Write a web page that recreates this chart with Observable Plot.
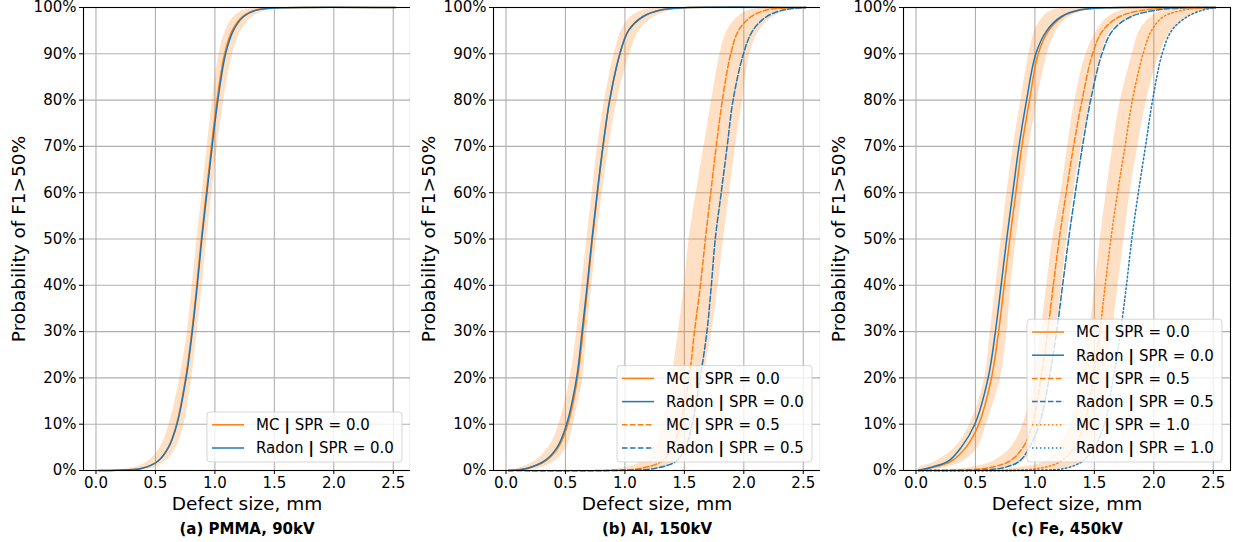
<!DOCTYPE html>
<html><head><meta charset="utf-8">
<script src="https://cdn.jsdelivr.net/npm/d3@7"></script>
<script src="https://cdn.jsdelivr.net/npm/@observablehq/plot@0.6"></script>
<style>
body{margin:0;background:#fff;width:1233px;height:542px;overflow:hidden;font-family:"DejaVu Sans";}
.panel{position:absolute;top:0;}
</style></head><body>
<div id="chart"></div>
<script>
// probability levels at which the curve positions (defect size, mm) were read
const levels = [0.0005, 0.005, 0.02, 0.05, 0.1, 0.2, 0.3, 0.4, 0.5, 0.6, 0.7, 0.8, 0.9, 0.95, 0.98, 0.995, 0.9995];
const xTicks = [0, 0.5, 1.0, 1.5, 2.0, 2.5];
const yTicks = [0, 0.1, 0.2, 0.3, 0.4, 0.5, 0.6, 0.7, 0.8, 0.9, 1.0];
const xStart = 0.02, xEnd = 2.52;
const captions = ["(a) PMMA, 90kV", "(b) Al, 150kV", "(c) Fe, 450kV"];
const sprValues = [["0.0"], ["0.0", "0.5"], ["0.0", "0.5", "1.0"]];

// (a) PMMA, 90kV
const aMC0    = [0.17, 0.39, 0.52, 0.608, 0.678, 0.754, 0.806, 0.848, 0.886, 0.928, 0.971, 1.018, 1.082, 1.145, 1.23, 1.35, 1.56];
const aRadon0 = [0.17, 0.39, 0.52, 0.610, 0.681, 0.758, 0.810, 0.852, 0.890, 0.933, 0.977, 1.025, 1.090, 1.155, 1.24, 1.36, 1.57];
const aLo0    = [0.09, 0.30, 0.44, 0.54, 0.615, 0.705, 0.768, 0.81, 0.85, 0.893, 0.935, 0.98, 1.035, 1.09, 1.16, 1.26, 1.42];
const aHi0    = [0.27, 0.47, 0.59, 0.675, 0.74, 0.805, 0.852, 0.893, 0.932, 0.975, 1.02, 1.075, 1.15, 1.22, 1.32, 1.46, 1.68];

// (b) Al, 150kV
const bMC0    = [0.07, 0.19, 0.33, 0.44, 0.52, 0.602, 0.647, 0.688, 0.727, 0.770, 0.817, 0.873, 0.958, 1.03, 1.15, 1.31, 1.50];
const bRadon0 = [0.06, 0.18, 0.32, 0.43, 0.51, 0.594, 0.640, 0.683, 0.723, 0.767, 0.815, 0.872, 0.958, 1.03, 1.15, 1.31, 1.50];
const bLo0    = [0.02, 0.10, 0.24, 0.36, 0.445, 0.54, 0.595, 0.637, 0.68, 0.725, 0.77, 0.83, 0.91, 0.97, 1.05, 1.17, 1.32];
const bHi0    = [0.14, 0.28, 0.41, 0.51, 0.565, 0.645, 0.68, 0.722, 0.762, 0.81, 0.865, 0.935, 1.04, 1.12, 1.25, 1.42, 1.65];
const bMC5    = [0.90, 1.14, 1.31, 1.40, 1.465, 1.540, 1.585, 1.635, 1.677, 1.722, 1.768, 1.820, 1.890, 1.955, 2.06, 2.20, 2.42];
const bRadon5 = [1.00, 1.26, 1.43, 1.51, 1.565, 1.633, 1.690, 1.727, 1.760, 1.810, 1.860, 1.910, 1.997, 2.075, 2.19, 2.34, 2.50];
const bLo5    = [0.75, 0.98, 1.15, 1.26, 1.32, 1.395, 1.45, 1.50, 1.54, 1.60, 1.665, 1.73, 1.80, 1.86, 1.95, 2.06, 2.22];
const bHi5    = [1.05, 1.30, 1.465, 1.54, 1.595, 1.66, 1.73, 1.785, 1.83, 1.88, 1.93, 1.99, 2.05, 2.13, 2.25, 2.40, 2.52];

// (c) Fe, 450kV
const cMC0    = [0.02, 0.115, 0.296, 0.42, 0.528, 0.635, 0.695, 0.742, 0.789, 0.840, 0.890, 0.955, 1.028, 1.115, 1.23, 1.39, 1.60];
const cRadon0 = [0.02, 0.10, 0.27, 0.38, 0.495, 0.607, 0.668, 0.716, 0.763, 0.814, 0.866, 0.930, 1.008, 1.10, 1.22, 1.38, 1.60];
const cLo0    = [0.02, 0.02, 0.17, 0.33, 0.453, 0.578, 0.625, 0.672, 0.717, 0.765, 0.818, 0.883, 0.95, 1.00, 1.07, 1.16, 1.30];
const cHi0    = [0.10, 0.22, 0.40, 0.52, 0.592, 0.711, 0.764, 0.80, 0.842, 0.895, 0.95, 1.02, 1.106, 1.18, 1.29, 1.46, 1.70];
const cMC5    = [0.30, 0.59, 0.786, 0.90, 0.98, 1.051, 1.107, 1.155, 1.205, 1.263, 1.325, 1.397, 1.485, 1.57, 1.71, 1.93, 2.20];
const cRadon5 = [0.45, 0.716, 0.87, 0.954, 1.037, 1.121, 1.183, 1.233, 1.284, 1.340, 1.400, 1.469, 1.564, 1.653, 1.806, 2.04, 2.30];
const cLo5    = [0.15, 0.42, 0.65, 0.80, 0.90, 0.99, 1.05, 1.10, 1.149, 1.22, 1.275, 1.337, 1.43, 1.52, 1.62, 1.75, 1.95];
const cHi5    = [0.45, 0.73, 0.90, 0.99, 1.065, 1.13, 1.18, 1.225, 1.267, 1.325, 1.39, 1.47, 1.56, 1.64, 1.82, 2.10, 2.35];
const cMC10   = [0.70, 1.04, 1.22, 1.33, 1.415, 1.490, 1.546, 1.591, 1.639, 1.695, 1.758, 1.820, 1.910, 1.98, 2.08, 2.26, 2.45];
const cRadon10= [1.00, 1.26, 1.40, 1.50, 1.585, 1.660, 1.720, 1.770, 1.815, 1.870, 1.930, 1.990, 2.070, 2.15, 2.28, 2.42, 2.52];
const cLo10   = [0.55, 0.81, 1.09, 1.20, 1.30, 1.38, 1.457, 1.505, 1.55, 1.60, 1.655, 1.72, 1.82, 1.88, 1.98, 2.10, 2.30];
const cHi10   = [0.95, 1.26, 1.43, 1.50, 1.555, 1.61, 1.653, 1.70, 1.75, 1.80, 1.865, 1.94, 2.05, 2.15, 2.30, 2.45, 2.52];

const panelSeries = [
  [[aMC0, aRadon0, aLo0, aHi0]],
  [[bMC0, bRadon0, bLo0, bHi0], [bMC5, bRadon5, bLo5, bHi5]],
  [[cMC0, cRadon0, cLo0, cHi0], [cMC5, cRadon5, cLo5, cHi5], [cMC10, cRadon10, cLo10, cHi10]]
];

const ORANGE = "#ff7f0e", BLUE = "#1f77b4";
const dashes = [null, "5.55,2.4", "1.5,2.475"];

function toPoints(xs) {
  const pts = levels.map((p, i) => ({x: xs[i], p}));
  if (pts[0].x > xStart) pts.unshift({x: xStart, p: 0});
  if (pts[pts.length - 1].x < xEnd) pts.push({x: xEnd, p: 1});
  return pts;
}
function toBand(lo, hi) {
  return levels.map((p, i) => ({p, lo: lo[i], hi: hi[i]}));
}

const W = 411, H = 542, ML = 83, MR = 1, MT = 7, MB = 72;
const chart = document.getElementById("chart");

panelSeries.forEach((series, k) => {
  const marks = [
    Plot.gridX(xTicks, {stroke: "#b0b0b0", strokeOpacity: 1, strokeWidth: 1.1}),
    Plot.gridY(yTicks, {stroke: "#b0b0b0", strokeOpacity: 1, strokeWidth: 1.1})
  ];
  series.forEach(([mc, radon, lo, hi], j) => {
    marks.push(Plot.areaX(toBand(lo, hi), {y: "p", x1: "lo", x2: "hi", fill: ORANGE, fillOpacity: 0.24, curve: "catmull-rom"}));
    marks.push(Plot.line(toPoints(mc), {x: "x", y: "p", stroke: ORANGE, strokeWidth: 1.5, strokeDasharray: dashes[j], curve: "catmull-rom"}));
    marks.push(Plot.line(toPoints(radon), {x: "x", y: "p", stroke: BLUE, strokeWidth: 1.5, strokeDasharray: dashes[j], curve: "catmull-rom"}));
  });
  marks.push(Plot.frame({stroke: "black", strokeWidth: 1.1}));
  marks.push(Plot.axisX(xTicks, {tickFormat: d3.format(".1f"), tickSize: 4, tickPadding: 3, fontSize: 15, label: null, stroke: "black", fill: "black"}));
  marks.push(Plot.axisY(yTicks, {tickFormat: d3.format(".0%"), tickSize: 4, tickPadding: 3, fontSize: 15, label: null, stroke: "black", fill: "black"}));
  marks.push(Plot.text(["Defect size, mm"], {frameAnchor: "bottom", lineAnchor: "middle", dy: 34, text: d => d, fontSize: 18.5, fill: "black"}));
  marks.push(Plot.text([captions[k]], {frameAnchor: "bottom", lineAnchor: "middle", dy: 59, text: d => d, fontSize: 15, fontWeight: "bold", fill: "black"}));
  marks.push(Plot.text(["Probability of F1>50%"], {frameAnchor: "left", textAnchor: "middle", lineAnchor: "middle", dx: -64.5, rotate: -90, text: d => d, fontSize: 18.5, fill: "black"}));

  const svg = Plot.plot({
    width: W, height: H,
    marginLeft: ML, marginRight: MR, marginTop: MT, marginBottom: MB,
    x: {domain: [-0.105, 2.645]},
    y: {domain: [0, 1]},
    style: {fontFamily: "DejaVu Sans", fontSize: "15px", color: "black", background: "white", overflow: "visible"},
    marks
  });

  // legend (matplotlib-style, lower right)
  const entries = [];
  sprValues[k].forEach((v, j) => {
    entries.push({name: "MC", spr: v, color: ORANGE, dash: dashes[j]});
    entries.push({name: "Radon", spr: v, color: BLUE, dash: dashes[j]});
  });
  const n = entries.length, rowH = 23.2;
  const right = W - MR - 8, bottom = H - MB - 8;
  const boxW = 195, boxH = n * rowH + 3.6, left = right - boxW;
  const g = d3.select(svg).append("g").attr("font-family", "DejaVu Sans").attr("font-size", 15).attr("text-anchor", "start");
  g.append("rect").attr("x", left).attr("y", bottom - boxH).attr("width", boxW).attr("height", boxH)
    .attr("rx", 3).attr("fill", "white").attr("fill-opacity", 0.8).attr("stroke", "#cccccc").attr("stroke-opacity", 0.8);
  entries.forEach((e, i) => {
    const cy = bottom - 14 - (n - 1 - i) * rowH;
    g.append("line").attr("x1", left + 5).attr("x2", left + 37).attr("y1", cy).attr("y2", cy)
      .attr("stroke", e.color).attr("stroke-width", 1.5).attr("stroke-dasharray", e.dash);
    const t = g.append("text").attr("x", left + 49).attr("y", cy).attr("dy", "0.36em").attr("fill", "black").attr("text-anchor", "start");
    t.append("tspan").text(e.name + " ");
    t.append("tspan").attr("font-weight", "bold").attr("font-size", 16).text("|");
    t.append("tspan").text(" SPR = " + e.spr);
  });

  const div = document.createElement("div");
  div.className = "panel";
  div.style.left = (k * 410) + "px";
  div.appendChild(svg);
  chart.appendChild(div);
});
</script>
</body></html>
